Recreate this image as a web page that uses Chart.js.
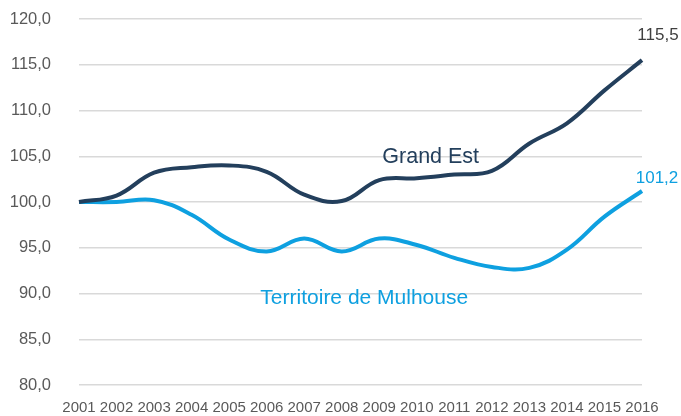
<!DOCTYPE html>
<html>
<head>
<meta charset="utf-8">
<script src="https://cdn.jsdelivr.net/npm/chart.js@4"></script>
<style>
  html, body { margin: 0; padding: 0; background: #fff; overflow: hidden; }
  canvas { display: block; }
</style>
</head>
<body>
<canvas id="canvas" width="681" height="416"></canvas>
<script>
let years = ['2001','2002','2003','2004','2005','2006','2007','2008','2009','2010','2011','2012','2013','2014','2015','2016']
let grandEst = [100.0, 100.7, 103.2, 103.8, 104.0, 103.3, 100.8, 100.1, 102.4, 102.6, 103.0, 103.4, 106.4, 108.6, 112.2, 115.5]
let mulhouse = [100.0, 100.0, 100.2, 98.6, 95.9, 94.6, 96.0, 94.6, 96.0, 95.3, 93.9, 92.9, 92.8, 94.8, 98.4, 101.2]
let navy = '#233f5c'
let blue = '#0ea0e0'
let font = '"Liberation Sans", Arial, sans-serif'

function fr(v, d) {
    return v.toFixed(d).replace('.', ',')
}

// texts on the chart: end values and series names
let labels = {
    id: 'labels',
    afterDatasetsDraw(chart) {
        let ctx = chart.ctx
        let x = chart.scales.x
        let y = chart.scales.y
        ctx.save()
        ctx.textAlign = 'center'
        ctx.textBaseline = 'middle'
        ctx.font = '17px ' + font
        let last = years.length - 1
        ctx.fillStyle = '#404040'
        ctx.fillText(fr(grandEst[last], 1), x.getPixelForValue(last) + 16, y.getPixelForValue(grandEst[last]) - 25)
        ctx.fillStyle = blue
        ctx.fillText(fr(mulhouse[last], 1), x.getPixelForValue(last) + 15, y.getPixelForValue(mulhouse[last]) - 13)
        ctx.font = '21.5px ' + font
        ctx.fillStyle = navy
        ctx.fillText('Grand Est', x.getPixelForValue(9.37), y.getPixelForValue(104.9))
        ctx.font = '21px ' + font
        ctx.fillStyle = blue
        ctx.fillText('Territoire de Mulhouse', x.getPixelForValue(7.6), y.getPixelForValue(89.5))
        ctx.restore()
    }
}

new Chart(document.getElementById('canvas'), {
    type: 'line',
    data: {
        labels: years,
        datasets: [
            { label: 'Grand Est', data: grandEst, borderColor: navy, borderWidth: 4, pointRadius: 0, tension: 0.4 },
            { label: 'Territoire de Mulhouse', data: mulhouse, borderColor: blue, borderWidth: 4, pointRadius: 0, tension: 0.4 }
        ]
    },
    options: {
        responsive: false,
        animation: false,
        layout: { padding: { top: 19, right: 39, left: 0, bottom: 0 } },
        plugins: { legend: { display: false }, tooltip: { enabled: false } },
        scales: {
            x: {
                offset: false,
                grid: { display: false },
                border: { display: false },
                ticks: { color: '#595959', font: { size: 15, family: font }, padding: 6, maxRotation: 0, autoSkip: false },
                afterFit(axis) { axis.height = 31 }
            },
            y: {
                min: 80,
                max: 120,
                ticks: { stepSize: 5, color: '#595959', padding: 28, font: { size: 16.5, family: font }, callback: v => fr(v, 1) },
                grid: { color: '#d9d9d9', lineWidth: 1.5, drawTicks: false },
                border: { display: false },
                afterFit(axis) { axis.width = 79; axis.paddingTop = 0; axis.paddingBottom = 0 }
            }
        }
    },
    plugins: [labels]
})
</script>
</body>
</html>
